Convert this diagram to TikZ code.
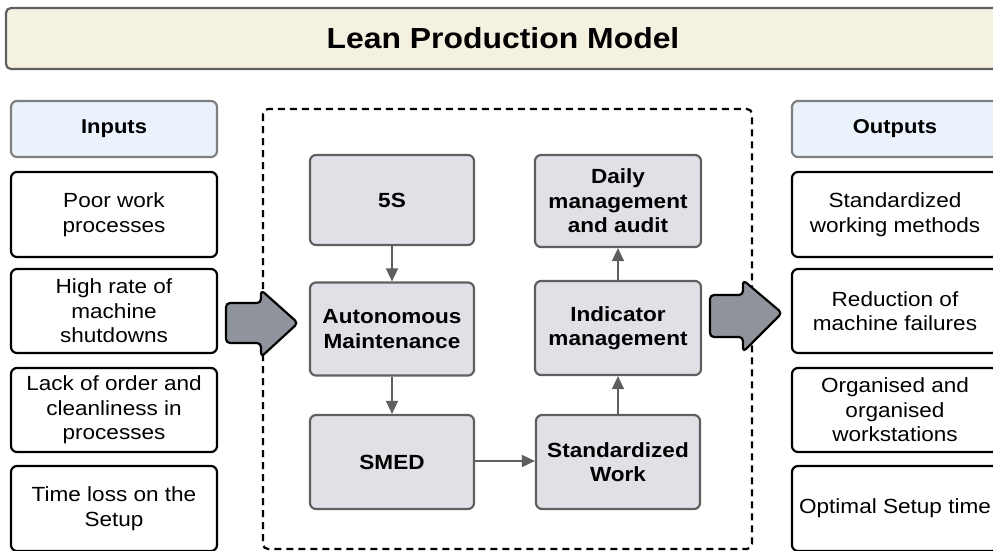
\documentclass[tikz,border=0pt]{standalone}
\usepackage{fontspec}
\setmainfont[FakeStretch=1.1]{Liberation Sans}
\usetikzlibrary{arrows.meta}
\usetikzlibrary{positioning}

\definecolor{titlefill}{HTML}{F5F1E1}
\definecolor{headfill}{HTML}{EAF2FC}
\definecolor{stepfill}{HTML}{DFE1E6}
\definecolor{stepdraw}{HTML}{5F5F5F}
\definecolor{bigfill}{HTML}{8F949C}

\begin{document}
\begin{tikzpicture}
  [x=1pt,y=-1pt,
  titlebox/.style={draw=stepdraw,fill=titlefill,line width=2.2pt,rounded corners=5pt,minimum width=994pt,minimum height=61pt,font=\fontsize{29}{34}\selectfont\bfseries},
  headbox/.style={draw=stepdraw!80,fill=headfill,line width=2.2pt,rounded corners=6pt,minimum width=206pt,minimum height=56pt,font=\fontsize{20}{24}\selectfont\bfseries},
  itembox/.style={draw=black,fill=white,line width=2.2pt,rounded corners=6pt,minimum width=206pt,align=center,font=\fontsize{20.5}{24.5}\selectfont},
  stepbox/.style={draw=stepdraw,fill=stepfill,line width=2.2pt,rounded corners=6pt,minimum width=164pt,align=center,font=\fontsize{20.5}{24.5}\selectfont\bfseries},
  link/.style={-{Triangle[length=13pt,width=12pt]},draw=stepdraw,line width=1.6pt},
  bigarrow/.style={draw=black,fill=bigfill,line width=2.2pt,rounded corners=4pt,line join=round}]
  \clip (0,0) rectangle (993,550);

  \node[titlebox] (title) at (503,38.5) {Lean Production Model};

  % inputs
  \node[headbox] (inhead) at (114,129) {Inputs};
  \node[itembox,minimum height=85pt] (in1) at (114,214.5) {Poor work\\processes};
  \node[itembox,minimum height=84pt] (in2) at (114,311) {High rate of\\machine\\shutdowns};
  \node[itembox,minimum height=84pt] (in3) at (114,410) {Lack of order and\\cleanliness in\\processes};
  \node[itembox,minimum height=85pt] (in4) at (114,508.5) {Time loss on the\\Setup};

  % outputs
  \node[headbox] (outhead) at (895,129) {Outputs};
  \node[itembox,minimum height=85pt] (out1) at (895,214.5) {Standardized\\working methods};
  \node[itembox,minimum height=84pt] (out2) at (895,311) {Reduction of\\machine failures};
  \node[itembox,minimum height=84pt] (out3) at (895,410) {Organised and\\organised\\workstations};
  \node[itembox,minimum height=85pt] (out4) at (895,508.5) {Optimal Setup time};

  % lean tools
  \draw[dashed,dash pattern=on 7pt off 5pt,line width=2.2pt,rounded corners=5pt] (263,109) rectangle (752,549);
  \node[stepbox,minimum height=90pt] (fives) at (392,200) {5S};
  \node[stepbox,minimum height=93pt] (autom) at (392,329) {Autonomous\\Maintenance};
  \node[stepbox,minimum height=94pt] (smed) at (392,462) {SMED};
  \node[stepbox,minimum height=94pt] (stdwork) at (618,462) {Standardized\\Work};
  \node[stepbox,minimum height=94pt,minimum width=166pt] (indic) at (618,328) {Indicator\\management};
  \node[stepbox,minimum height=92pt,minimum width=166pt] (daily) at (618,201) {Daily\\management\\and audit};

  \draw[link] (fives) -- (autom);
  \draw[link] (autom) -- (smed);
  \draw[link] (smed.east |- 0,461) -- (stdwork.west |- 0,461);
  \draw[link] (stdwork) -- (indic);
  \draw[link] (indic) -- (daily);

  % big arrows
  \draw[bigarrow] (226,303) -- (261,303) -- (261,290) -- (298,323) -- (261,357) -- (261,343) -- (226,343) -- cycle;
  \draw[bigarrow] (710,295) -- (743,295) -- (743,280) -- (782,313) -- (743,352) -- (743,337) -- (710,337) -- cycle;
\end{tikzpicture}
\end{document}
